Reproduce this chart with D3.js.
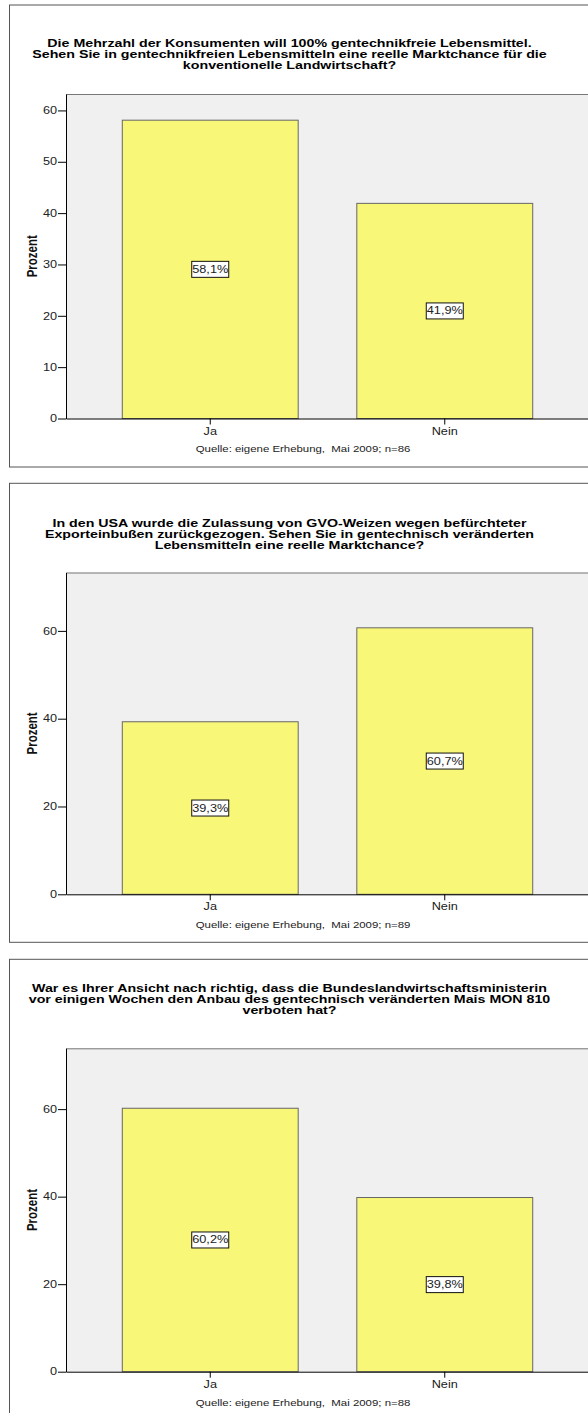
<!DOCTYPE html>
<html>
<head>
<meta charset="utf-8">
<script src="https://cdn.jsdelivr.net/npm/d3@7"></script>
<style>
  body { margin: 0; background: #fff; }
  svg { display: block; font-family: "Liberation Sans", Arial, sans-serif; }
</style>
</head>
<body>
<svg id="chart" width="588" height="1413"></svg>
<script>
// Survey answers (percent of respondents), one set per question
const categories = ["Ja", "Nein"];

const title1 = [
  "Die Mehrzahl der Konsumenten will 100% gentechnikfreie Lebensmittel.",
  "Sehen Sie in gentechnikfreien Lebensmitteln eine reelle Marktchance für die",
  "konventionelle Landwirtschaft?"
];
const title2 = [
  "In den USA wurde die Zulassung von GVO-Weizen wegen befürchteter",
  "Exporteinbußen zurückgezogen. Sehen Sie in gentechnisch veränderten",
  "Lebensmitteln eine reelle Marktchance?"
];
const title3 = [
  "War es Ihrer Ansicht nach richtig, dass die Bundeslandwirtschaftsministerin",
  "vor einigen Wochen den Anbau des gentechnisch veränderten Mais MON 810",
  "verboten hat?"
];

const values1 = [58.1, 41.9];
const values2 = [39.3, 60.7];
const values3 = [60.2, 39.8];

const ticks1 = [0, 10, 20, 30, 40, 50, 60];
const ticks2 = [0, 20, 40, 60];
const ticks3 = [0, 20, 40, 60];

const sampleSizes = [86, 89, 88];
const axisTitle = "Prozent";
const sourceText = "Quelle: eigene Erhebung,  Mai 2009; n=";

// Page layout of the three stacked panels
const layout = [
  { top: 5,     bottom: 467,   titleY: 43,  plotTop: 94,     base: 418.5,  yMax: 63.2 },
  { top: 483.3, bottom: 942.3, titleY: 523, plotTop: 572.5,  base: 894.3,  yMax: 73.3 },
  { top: 959.3, bottom: 1440,  titleY: 988, plotTop: 1048.3, base: 1371.7, yMax: 73.9 }
];

const panels = [
  { title: title1, values: values1, ticks: ticks1, n: sampleSizes[0] },
  { title: title2, values: values2, ticks: ticks2, n: sampleSizes[1] },
  { title: title3, values: values3, ticks: ticks3, n: sampleSizes[2] }
];

// the whole figure is drawn with horizontally widened lettering
const SX = 1.27;
const svg = d3.select("#chart");
const plotLeft = 66, plotRight = 589, frameLeft = 9.5;
const fmt = v => d3.format(".1f")(v).replace(".", ",") + "%";

// widen already-placed text: keep its anchor x, scale glyphs horizontally
function widen(sel) {
  sel.each(function () {
    const t = d3.select(this);
    const x = +t.attr("x") || 0;
    t.attr("x", x / SX).attr("transform", `scale(${SX},1)`);
  });
}

panels.forEach((p, i) => {
  const L = layout[i];
  const g = svg.append("g");

  // outer frame
  g.append("rect")
    .attr("x", frameLeft).attr("y", L.top)
    .attr("width", 620).attr("height", L.bottom - L.top)
    .attr("fill", "#fff").attr("stroke", "#555").attr("stroke-width", 1);

  // title
  g.append("g")
    .attr("transform", `translate(289.5,${L.titleY}) scale(${SX},1)`)
    .append("text")
    .attr("text-anchor", "middle")
    .attr("font-weight", "bold").attr("font-size", 11.2)
    .attr("fill", "#000")
    .selectAll("tspan").data(p.title).join("tspan")
    .attr("x", 0)
    .attr("y", (d, k) => 4 + k * 10.9)
    .text(d => d);

  const x = d3.scaleBand().domain(categories)
    .range([plotLeft, plotRight]).paddingInner(0.25).paddingOuter(0.24);
  const y = d3.scaleLinear().domain([0, L.yMax]).range([L.base, L.plotTop]);

  // plot background
  g.append("rect")
    .attr("x", plotLeft).attr("y", L.plotTop)
    .attr("width", plotRight - plotLeft).attr("height", L.base - L.plotTop)
    .attr("fill", "#f0f0f0");
  g.append("line")
    .attr("x1", plotLeft).attr("x2", plotRight + 5)
    .attr("y1", L.plotTop + 0.5).attr("y2", L.plotTop + 0.5)
    .attr("stroke", "#777");

  // bars
  g.selectAll("rect.bar").data(p.values).join("rect")
    .attr("class", "bar")
    .attr("x", (d, k) => x(categories[k]))
    .attr("y", d => y(d))
    .attr("width", x.bandwidth())
    .attr("height", d => y(0) - y(d))
    .attr("fill", "#f9f777")
    .attr("stroke", "#666").attr("stroke-width", 1);

  // value labels in white boxes
  const lab = g.selectAll("g.lab").data(p.values).join("g")
    .attr("class", "lab")
    .attr("transform", (d, k) =>
      `translate(${x(categories[k]) + x.bandwidth() / 2},${y(d / 2)})`);
  lab.append("rect")
    .attr("x", -18.5).attr("y", -8).attr("width", 37).attr("height", 16)
    .attr("fill", "#fff").attr("stroke", "#111");
  lab.append("text")
    .attr("text-anchor", "middle").attr("dy", "0.35em")
    .attr("font-size", 10).attr("fill", "#222")
    .text(d => fmt(d))
    .call(widen);

  // y axis
  const ya = g.append("g")
    .attr("transform", `translate(${plotLeft},0)`)
    .call(d3.axisLeft(y).tickValues(p.ticks).tickSize(8).tickPadding(1).tickSizeOuter(0));
  ya.select(".domain").attr("stroke", "#000");
  ya.selectAll(".tick line").attr("stroke", "#000");
  ya.selectAll(".tick text").attr("font-size", 10).attr("fill", "#222")
    .attr("font-family", "Liberation Sans, Arial, sans-serif")
    .call(widen);

  // x axis
  const xa = g.append("g")
    .attr("transform", `translate(0,${L.base})`)
    .call(d3.axisBottom(x).tickSize(6).tickPadding(3).tickSizeOuter(0));
  xa.select(".domain").attr("stroke", "#000");
  xa.selectAll(".tick line").attr("stroke", "#000");
  xa.selectAll(".tick text").attr("font-size", 10).attr("fill", "#222")
    .attr("font-family", "Liberation Sans, Arial, sans-serif")
    .call(widen);

  // y axis title
  g.append("text")
    .attr("transform", `translate(37,${(L.plotTop + L.base) / 2}) scale(${SX},1) rotate(-90)`)
    .attr("text-anchor", "middle")
    .attr("font-weight", "bold").attr("font-size", 11.5).attr("fill", "#111")
    .text(axisTitle);

  // source note
  g.append("text")
    .attr("x", 303).attr("y", L.base + 34)
    .attr("text-anchor", "middle").attr("font-size", 9).attr("fill", "#222")
    .style("white-space", "pre")
    .text(sourceText + p.n)
    .call(widen);
});
</script>
</body>
</html>
